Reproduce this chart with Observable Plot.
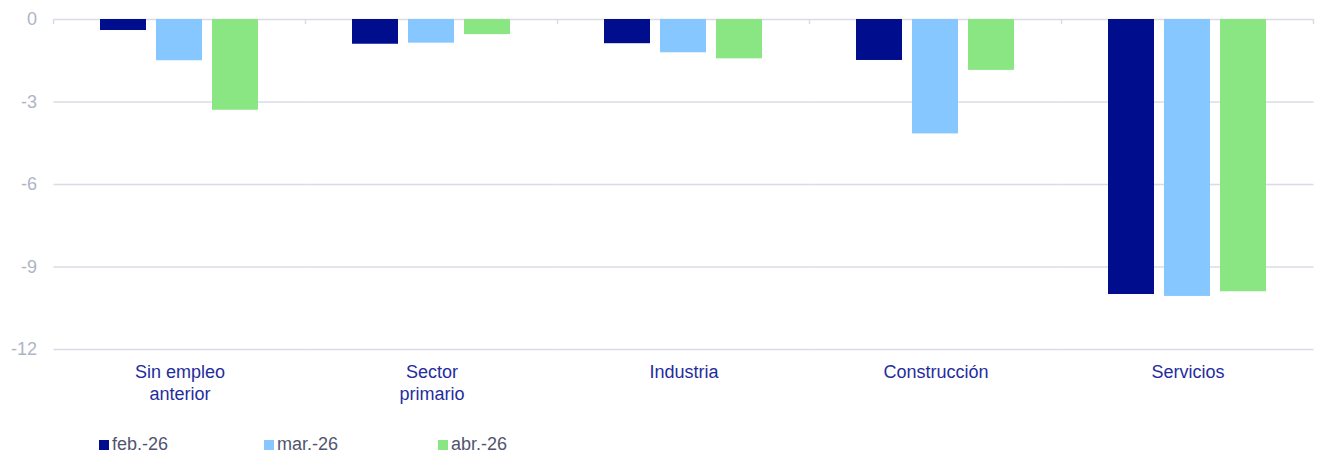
<!DOCTYPE html>
<html>
<head>
<meta charset="utf-8">
<script src="https://cdn.jsdelivr.net/npm/d3@7"></script>
<script src="https://cdn.jsdelivr.net/npm/@observablehq/plot@0.6"></script>
<style>
  body { margin: 0; background: #fff; font-family: "Liberation Sans", Arial, sans-serif; }
  #chart svg { display: block; }
  .legend { display: flex; padding-left: 99px; margin-top: 14px; height: 20px; align-items: center; }
  .legend .item { display: flex; align-items: center; font-size: 18px; line-height: 20px; color: #50556f; }
  .legend .sw { width: 10px; height: 10px; margin-right: 3px; margin-top: 1px; }
</style>
</head>
<body>
<div id="chart"></div>
<script>
const categories = ["Sin empleo\nanterior", "Sector\nprimario", "Industria", "Construcción", "Servicios"];
const seriesNames = ["feb.-26", "mar.-26", "abr.-26"];
const febValues = [-0.4, -0.9, -0.88, -1.49, -10.0];
const marValues = [-1.5, -0.86, -1.21, -4.16, -10.07];
const abrValues = [-3.3, -0.55, -1.43, -1.85, -9.9];
const yTicks = [0, -3, -6, -9, -12];
const colors = ["#000e8e", "#85c7fe", "#89e682"];

const seriesValues = [febValues, marValues, abrValues];
const data = [];
categories.forEach((c, i) => {
  seriesNames.forEach((s, j) => data.push({category: c, series: s, value: seriesValues[j][i]}));
});

const width = 1318, marginLeft = 52, marginRight = 2;
const fxPadIn = 0.368, fxPadOut = fxPadIn / 2, xPadIn = 0.17;
const fxStep = (width - marginLeft - marginRight) / (categories.length - fxPadIn + 2 * fxPadOut);
const fxBand = fxStep * (1 - fxPadIn);
const halfGap = (fxStep - fxBand) / 2;
const xStep = fxBand / (seriesNames.length - xPadIn);
const barW = xStep * (1 - xPadIn);
const edgeOffset = barW / 2 + halfGap;
const gridColor = "#d9dce6";

const plot = Plot.plot({
  width,
  height: 420,
  marginTop: 19,
  marginBottom: 71,
  marginLeft,
  marginRight,
  style: {fontFamily: "Liberation Sans, Arial, sans-serif", background: "#fff"},
  fx: {domain: categories, paddingInner: fxPadIn, paddingOuter: fxPadOut, label: null},
  x: {domain: seriesNames, paddingInner: xPadIn, paddingOuter: 0, axis: null},
  y: {domain: [-12, 0], label: null},
  color: {domain: seriesNames, range: colors},
  marks: [
    Plot.ruleY(yTicks, {insetLeft: -halfGap, insetRight: -halfGap, stroke: gridColor, strokeWidth: 1.5}),
    Plot.ruleX(categories, {fx: d => d, x: () => seriesNames[0], y1: 0, y2: 0, insetBottom: -5, dx: -edgeOffset, stroke: gridColor, strokeWidth: 1.5}),
    Plot.ruleX(categories.slice(-1), {fx: d => d, x: () => seriesNames[2], y1: 0, y2: 0, insetBottom: -5, dx: edgeOffset, stroke: gridColor, strokeWidth: 1.5}),
    Plot.barY(data, {fx: "category", x: "series", y: "value", fill: "series"}),
    Plot.axisY({ticks: yTicks, tickSize: 0, tickPadding: 17, dx: -halfGap, tickFormat: d => String(d), fontSize: 18, color: "#aeb5c5", label: null}),
    Plot.axisFx({anchor: "bottom", tickSize: 0, tickPadding: 14, fontSize: 18, lineHeight: 1.17, color: "#1f2d9e", label: null})
  ]
});
document.getElementById("chart").appendChild(plot);

const legend = document.createElement("div");
legend.className = "legend";
seriesNames.forEach((s, i) => {
  const item = document.createElement("div");
  item.className = "item";
  item.style.width = i === 0 ? "165px" : "174px";
  item.innerHTML = `<span class="sw" style="background:${colors[i]}"></span><span>${s}</span>`;
  legend.appendChild(item);
});
document.body.appendChild(legend);
</script>
</body>
</html>
